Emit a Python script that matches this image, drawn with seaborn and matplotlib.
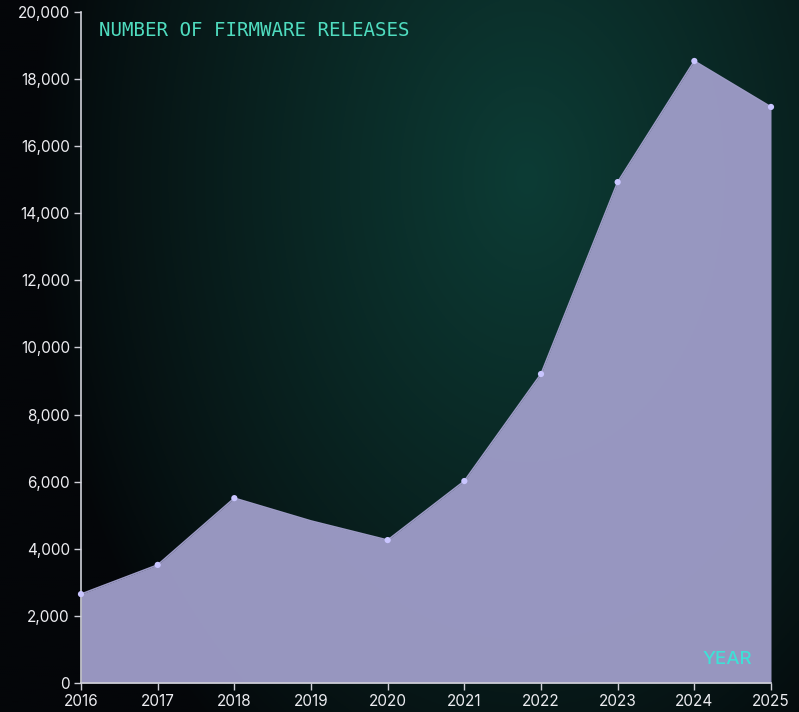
import numpy as np
import pandas as pd
import matplotlib.pyplot as plt
import seaborn as sns

# values
years = [2016, 2017, 2018, 2019, 2020, 2021, 2022, 2023, 2024, 2025]
releases = [2650, 3520, 5510, 4830, 4260, 6020, 9210, 14930, 18540, 17170]
yticks = [0, 2000, 4000, 6000, 8000, 10000, 12000, 14000, 16000, 18000, 20000]

FILL_COLOR = '#9d9bc6'
DOT_COLOR = '#c9c5ff'
TITLE_COLOR = '#4fdcbf'
YEAR_COLOR = '#3fe0d6'
TEXT_COLOR = '#ececf0'
SPINE_COLOR = '#d0d0d8'

df = pd.DataFrame({'year': years, 'releases': releases})

sns.set_theme(style='dark')
plt.rcParams['font.family'] = ['Inter', 'DejaVu Sans']

fig = plt.figure(figsize=(7.99, 7.12), dpi=100)

# background: near black on the left, teal glow towards the upper right
bg = fig.add_axes([0, 0, 1, 1], zorder=-10)
gx, gy = np.meshgrid(np.linspace(0, 1, 400), np.linspace(0, 1, 360))
d = np.sqrt(((gx - 0.66) / 0.62) ** 2 + ((gy - 0.25) / 1.0) ** 2)
t = np.clip(1 - d, 0, 1) ** 0.85
dark = np.array([4, 6, 9]) / 255
teal = np.array([13, 60, 53]) / 255
img = dark[None, None, :] + (teal - dark)[None, None, :] * t[:, :, None]
bg.imshow(img, aspect='auto', extent=[0, 1, 0, 1], origin='upper')
bg.set_axis_off()

ax = fig.add_axes([81 / 799, 29 / 712, 690 / 799, 671 / 712])
ax.set_facecolor('none')
ax.fill_between(df['year'], df['releases'], 0, color=FILL_COLOR, alpha=0.97, lw=0, zorder=2)
sns.lineplot(data=df, x='year', y='releases', ax=ax, color=FILL_COLOR, lw=1.2, zorder=3)
marked = df[df['year'] != 2019]
sns.scatterplot(data=marked, x='year', y='releases', ax=ax, color=DOT_COLOR, s=20,
                edgecolor='none', zorder=4, clip_on=False)

ax.set_xlim(2016, 2025)
ax.set_ylim(0, 20000)
ax.set_xticks(years)
ax.set_yticks(yticks)
ax.set_yticklabels(['{:,}'.format(v) for v in yticks])
ax.set_xlabel('')
ax.set_ylabel('')
ax.grid(False)
ax.tick_params(colors=TEXT_COLOR, labelsize=11, length=5, width=1, pad=3,
               bottom=True, left=True)
ax.tick_params(axis='y', color=SPINE_COLOR)
ax.tick_params(axis='x', color=SPINE_COLOR)
for side in ['top', 'right']:
    ax.spines[side].set_visible(False)
for side in ['left', 'bottom']:
    ax.spines[side].set_color(SPINE_COLOR)
    ax.spines[side].set_linewidth(1.2)

ax.text(0.026, 0.987, 'NUMBER OF FIRMWARE RELEASES', transform=ax.transAxes,
        family='DejaVu Sans Mono', fontsize=13.8, color=TITLE_COLOR, va='top', ha='left')
ax.text(0.972, 0.023, 'YEAR', transform=ax.transAxes, fontsize=13.5, fontweight='medium',
        color=YEAR_COLOR, va='bottom', ha='right', zorder=5)

fig.savefig('out.png', dpi=100)
